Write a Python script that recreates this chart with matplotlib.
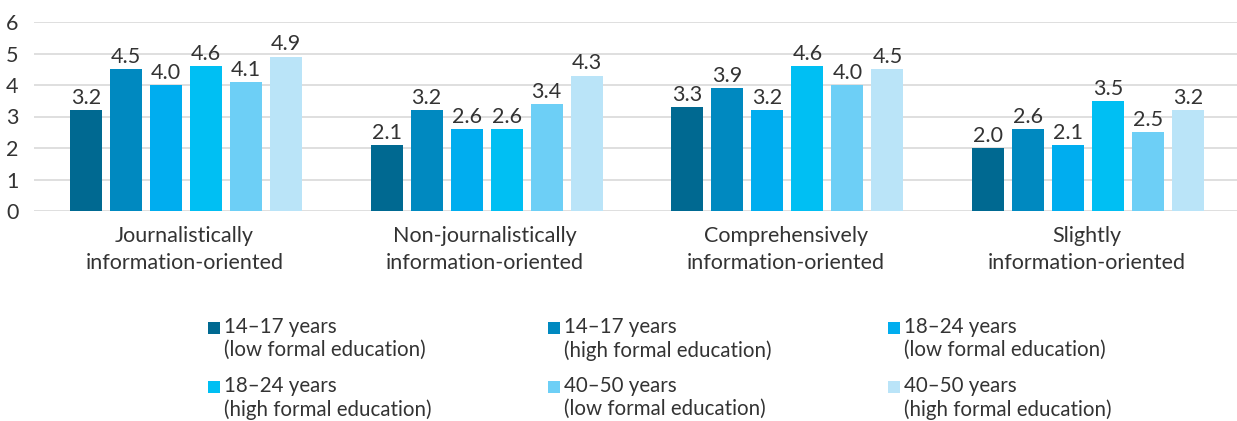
import numpy as np
import matplotlib.pyplot as plt
from matplotlib.patches import Rectangle

plt.rcParams['font.family'] = ['Lato', 'DejaVu Sans']

categories = ['Journalistically\ninformation-oriented',
              'Non-journalistically\ninformation-oriented',
              'Comprehensively\ninformation-oriented',
              'Slightly\ninformation-oriented']
series_names = ['14–17 years\n(low formal education)',
                '14–17 years\n(high formal education)',
                '18–24 years\n(low formal education)',
                '18–24 years\n(high formal education)',
                '40–50 years\n(low formal education)',
                '40–50 years\n(high formal education)']
values = [
    [3.2, 2.1, 3.3, 2.0],
    [4.5, 3.2, 3.9, 2.6],
    [4.0, 2.6, 3.2, 2.1],
    [4.6, 2.6, 4.6, 3.5],
    [4.1, 3.4, 4.0, 2.5],
    [4.9, 4.3, 4.5, 3.2],
]
colors = ['#006991', '#0089C0', '#00ADEF', '#00BFF3', '#6DCFF6', '#BAE4F8']
txt = '#333333'

W, H = 1237, 421
fig = plt.figure(figsize=(W / 100, H / 100), dpi=100)
ax = fig.add_axes([34 / W, 1 - 211 / H, 1203 / W, 189 / H])

x = np.arange(len(categories))
width = 0.106
step = 0.133
for i, (vals, c) in enumerate(zip(values, colors)):
    pos = x + (i - 2.5) * step + 0.005
    bars = ax.bar(pos, vals, width, color=c, zorder=3)
    for b, v in zip(bars, vals):
        ax.text(b.get_x() + b.get_width() / 2, v + 0.07, f'{v:.1f}',
                ha='center', va='bottom', fontsize=15.5, color=txt)

ax.set_xlim(-0.5, 3.5)
ax.set_ylim(0, 6)
ax.set_yticks(range(7))
ax.yaxis.grid(True, color='#d9d9d9', lw=1.2, zorder=0)
for s in ax.spines.values():
    s.set_visible(False)
ax.tick_params(axis='y', length=0, labelsize=15.5, labelcolor=txt, pad=11)
ax.tick_params(axis='x', length=0, labelsize=15.5, labelcolor=txt, pad=11)
ax.set_xticks(x)
ax.set_xticklabels(categories, linespacing=1.45)

# legend, row by row, square next to the first line
col_x = [208, 548, 888]
row_y = [328, 387]
for i, (name, c) in enumerate(zip(series_names, colors)):
    px = col_x[i % 3]
    py = row_y[i // 3]
    fig.patches.append(Rectangle((px / W, 1 - (py + 6) / H), 12 / W, 12 / H,
                                 transform=fig.transFigure, facecolor=c, edgecolor='none'))
    fig.text((px + 16) / W, 1 - (py - 11) / H, name, ha='left', va='top',
             fontsize=14.8, color=txt, linespacing=1.2)

fig.savefig('out.png', dpi=100)
